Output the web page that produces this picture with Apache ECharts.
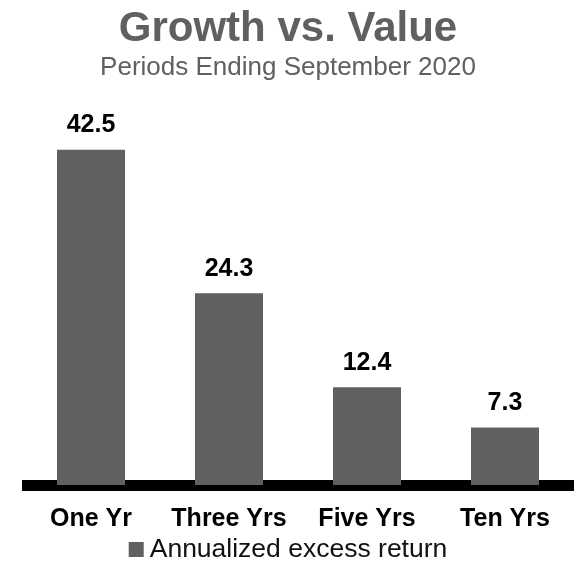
<!DOCTYPE html>
<html>
<head>
<meta charset="utf-8">
<script src="https://cdn.jsdelivr.net/npm/echarts@6/dist/echarts.min.js"></script>
<style>
html, body { margin: 0; padding: 0; background: #fff; }
#chart-box { width: 576px; height: 569px; }
</style>
</head>
<body>
<div id="chart-box"></div>
<script>
var categories = ['One Yr', 'Three Yrs', 'Five Yrs', 'Ten Yrs'];
var excessReturn = [42.5, 24.3, 12.4, 7.3];
var seriesName = 'Annualized excess return';

var barColor = '#5f6062';
var myChart = echarts.init(document.getElementById('chart-box'));
var option = {
    animation: false,
    title: {
        text: 'Growth vs. Value',
        subtext: 'Periods Ending September 2020',
        left: 'center',
        top: 3,
        itemGap: 5,
        textStyle: {
            color: '#606062',
            fontSize: 42,
            fontWeight: 'bold',
            fontFamily: 'Liberation Sans'
        },
        subtextStyle: {
            color: '#606062',
            fontSize: 26,
            fontFamily: 'Liberation Sans'
        }
    },
    legend: {
        bottom: 1,
        left: 'center',
        itemWidth: 15,
        itemHeight: 15,
        itemGap: 4,
        icon: 'rect',
        textStyle: {
            color: '#111',
            fontSize: 26.5,
            fontFamily: 'Liberation Sans',
            padding: [0, 0, 0, 1]
        },
        data: [seriesName]
    },
    grid: {
        left: 22,
        right: 2,
        top: 130,
        bottom: 84
    },
    xAxis: {
        type: 'category',
        data: categories,
        axisTick: { show: false },
        axisLine: {
            lineStyle: { color: '#000', width: 11, cap: 'butt' }
        },
        axisLabel: {
            interval: 0,
            margin: 22,
            color: '#000',
            fontSize: 25,
            fontWeight: 'bold',
            fontFamily: 'Liberation Sans'
        }
    },
    yAxis: {
        type: 'value',
        min: 0,
        max: 45,
        show: false,
        splitLine: { show: false }
    },
    series: [{
        name: seriesName,
        type: 'bar',
        data: excessReturn,
        barWidth: 68,
        itemStyle: { color: barColor },
        label: {
            show: true,
            position: 'top',
            distance: 12,
            color: '#000',
            fontSize: 25,
            fontWeight: 'bold',
            fontFamily: 'Liberation Sans'
        }
    }]
};
myChart.setOption(option);
</script>
</body>
</html>
